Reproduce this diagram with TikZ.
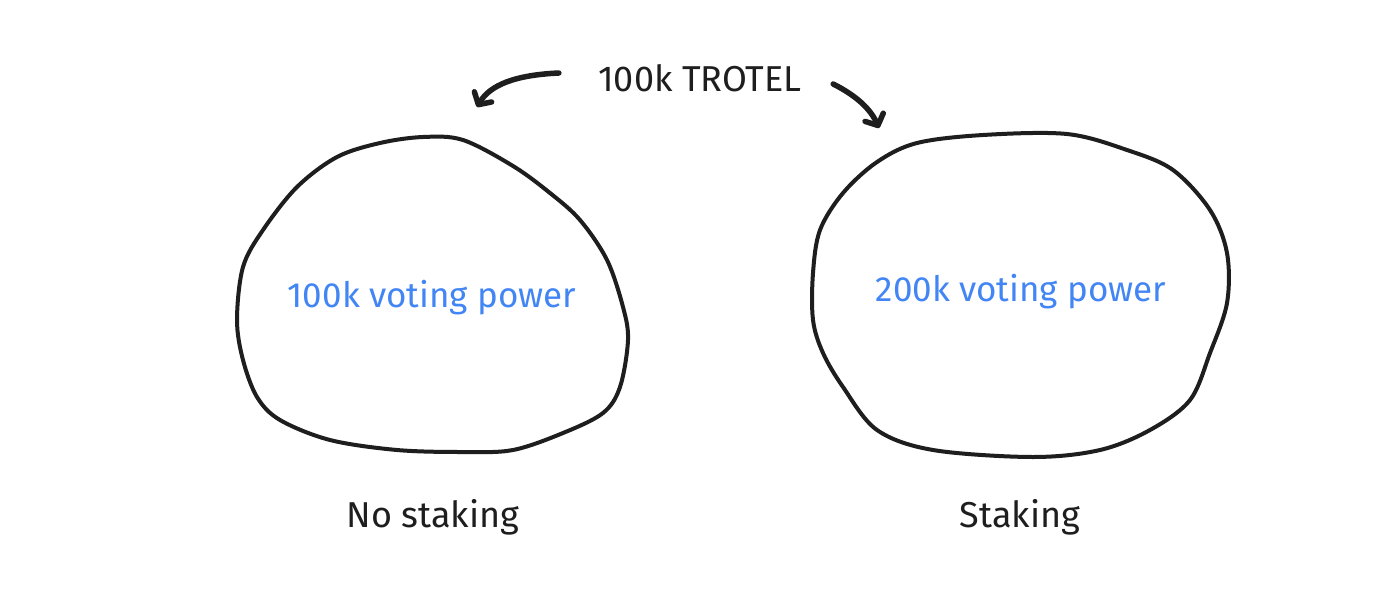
\documentclass[tikz,border=0pt]{standalone}
\usepackage{fontspec}
\setmainfont{Fira Sans}
\usetikzlibrary{arrows.meta, calc}
\definecolor{azulvoto}{RGB}{66,133,244}
\definecolor{traco}{RGB}{30,30,30}
\tikzset{
bolha/.style={draw=traco, line width=4pt, line join=round}
                }
\tikzset{
seta/.style = {draw=traco, line width=5.5pt, line cap=round,
               -{Straight Barb[length=9pt, width=20pt, line width=5.5pt, round]}}
         }
\tikzset{
rotulo/.style = {font=\fontsize{36}{40}\selectfont, text=traco}
         }

\begin{document}
\begin{tikzpicture}[x=1pt,y=-1pt]
    \useasboundingbox[fill=white] (0,0) rectangle (1400,600);

          % BOLHA ESQUERDA
    \draw[bolha] plot[smooth cycle, tension=0.55] coordinates {
      (423,137) (463,140) (513,166) (550,193) (580,220) (607,260)
      (623,307) (628,340) (620,387) (603,413) (563,433) (513,450)
      (463,452) (397,450) (330,440) (280,420) (257,397) (243,360)
      (237,320) (243,267) (263,230) (297,187) (337,157) (380,143)};

          % BOLHA DIREITA
    \draw[bolha] plot[smooth cycle, tension=0.55] coordinates {
      (1067,134) (1127,150) (1173,170) (1210,210) (1227,253) (1227,303)
      (1210,353) (1190,400) (1150,430) (1100,450) (1033,457) (933,450)
      (877,430) (843,387) (823,353) (813,320) (813,273) (820,230)
      (843,193) (877,162) (917,143) (983,135)};

        % TEXTOS
    \node[rotulo] (trotel) at (700,78) {100k TROTEL};
    \node[rotulo, text=azulvoto, font=\fontsize{35}{38}\selectfont] (semvoto) at (432,298) {100k voting power};
    \node[rotulo, text=azulvoto, font=\fontsize{35}{38}\selectfont] (comvoto) at (1021,292) {200k voting power};
    \node[rotulo] (semstake) at (433,517) {No staking};
    \node[rotulo] (comstake) at (1020,517) {Staking};

        % SETAS
    \coordinate (pontaE) at (477,107);
    \coordinate (pontaD) at (879,128);
    \draw[seta] ($(trotel.west)+(-36,-5)$) .. controls (515,75) and (490,85) .. (pontaE);
    \draw[seta] ($(trotel.east)+(28,6)$) .. controls (855,95) and (870,108) .. (pontaD);

\end{tikzpicture}
\end{document}
